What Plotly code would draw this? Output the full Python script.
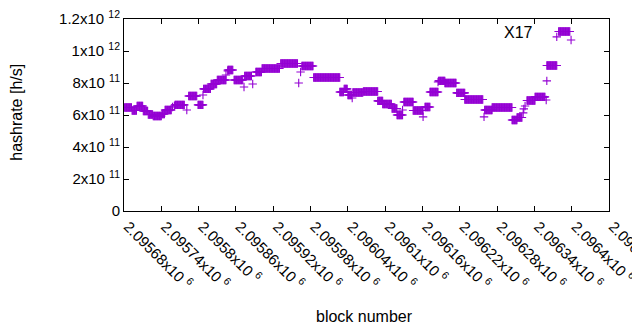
import plotly.graph_objects as go

# Runs of constant hashrate: (first block offset, last block offset, hashrate)
BASE_BLOCK = 2095680
run_start = [1, 13, 21, 31, 39, 47, 61, 66, 78, 81, 82, 101, 104, 119, 127, 128, 140, 150, 164, 167,
             167, 177, 193, 194, 207, 212, 222, 252, 281, 284, 286, 305, 347, 354, 360, 367, 368, 385,
             408, 416, 431, 439, 448, 450, 465, 481, 484, 492, 505, 506, 516, 535, 548, 579, 580, 592,
             624, 632, 642, 643, 645, 648, 661, 679, 680, 680, 696, 699, 719]
run_end = [12, 20, 30, 38, 46, 60, 65, 76, 78, 81, 97, 101, 117, 127, 127, 139, 149, 164, 164, 167,
           175, 191, 193, 205, 207, 221, 250, 279, 281, 284, 304, 347, 353, 359, 366, 367, 384, 408,
           416, 430, 439, 448, 448, 465, 481, 481, 492, 505, 505, 516, 534, 548, 577, 579, 592, 624,
           632, 640, 642, 643, 645, 661, 677, 679, 680, 696, 696, 717, 719]
run_value = [647e9, 628e9, 656e9, 625e9, 603e9, 594e9, 606e9, 631e9, 650e9, 656e9, 663e9, 631e9, 719e9,
             663e9, 725e9, 763e9, 794e9, 819e9, 850e9, 875e9, 881e9, 819e9, 775e9, 844e9, 794e9, 869e9,
             891e9, 922e9, 800e9, 869e9, 906e9, 834e9, 744e9, 763e9, 725e9, 706e9, 741e9, 747e9, 688e9,
             669e9, 641e9, 600e9, 631e9, 681e9, 628e9, 588e9, 650e9, 744e9, 806e9, 813e9, 800e9, 738e9,
             697e9, 588e9, 631e9, 647e9, 569e9, 584e9, 613e9, 638e9, 656e9, 691e9, 713e9, 694e9, 813e9,
             909e9, 1088e9, 1122e9, 1069e9]

x_tickvals = [2095680, 2095740, 2095800, 2095860, 2095920, 2095980, 2096040, 2096100, 2096160,
              2096220, 2096280, 2096340, 2096400, 2096460]
x_ticktext = ["2.09568x10 <sup>6</sup>", "2.09574x10 <sup>6</sup>", "2.0958x10 <sup>6</sup>",
              "2.09586x10 <sup>6</sup>", "2.09592x10 <sup>6</sup>", "2.09598x10 <sup>6</sup>",
              "2.09604x10 <sup>6</sup>", "2.0961x10 <sup>6</sup>", "2.09616x10 <sup>6</sup>",
              "2.09622x10 <sup>6</sup>", "2.09628x10 <sup>6</sup>", "2.09634x10 <sup>6</sup>",
              "2.0964x10 <sup>6</sup>", "2.09646x10 <sup>6</sup>"]
y_tickvals = [0, 2e11, 4e11, 6e11, 8e11, 1e12, 1.2e12]
y_ticktext = ["0", "2x10 <sup>11</sup>", "4x10 <sup>11</sup>", "6x10 <sup>11</sup>",
              "8x10 <sup>11</sup>", "1x10 <sup>12</sup>", "1.2x10 <sup>12</sup>"]

xs, ys = [], []
for s, e, v in zip(run_start, run_end, run_value):
    for b in range(s, e + 1):
        xs.append(BASE_BLOCK + b)
        ys.append(v)

COLOR = "#9400D3"
FONT = "Liberation Sans"

fig = go.Figure()
fig.add_trace(go.Scatter(
    x=xs, y=ys, mode="markers", name="X17",
    marker=dict(symbol="cross-thin", size=6, color=COLOR,
                line=dict(color=COLOR, width=1.1)),
    showlegend=False,
))

fig.add_annotation(text="X17", xref="paper", yref="paper", x=0.814, y=0.932,
                   xanchor="center", yanchor="middle", showarrow=False,
                   font=dict(family=FONT, size=16, color="black"))
fig.add_annotation(text="hashrate [h/s]", xref="paper", yref="paper", x=-0.221, y=0.516,
                   xanchor="center", yanchor="middle", showarrow=False, textangle=-90,
                   font=dict(family=FONT, size=16, color="black"))
fig.add_annotation(text="block number", xref="paper", yref="paper", x=0.495, y=-0.547,
                   xanchor="center", yanchor="middle", showarrow=False,
                   font=dict(family=FONT, size=16, color="black"))

# the page body adds an 8px offset, so the figure is sized to fit the 640x330 window
fig.update_layout(
    width=632, height=322,
    margin=dict(l=116, r=31, t=11, b=119),
    paper_bgcolor="white", plot_bgcolor="white",
    font=dict(family=FONT, size=15, color="black"),
    xaxis=dict(range=[2095680, 2096460], tickvals=x_tickvals, ticktext=x_ticktext,
               tickangle=45, ticks="inside", ticklen=5, tickcolor="black",
               showline=True, linecolor="black", linewidth=1, mirror="allticks",
               showgrid=False, zeroline=False, automargin=False,
               ticklabeloverflow="allow", ticklabelshift=4),
    yaxis=dict(range=[0, 1.2e12], tickvals=y_tickvals, ticktext=y_ticktext,
               ticks="inside", ticklen=5, tickcolor="black",
               showline=True, linecolor="black", linewidth=1, mirror="allticks",
               showgrid=False, zeroline=False, automargin=False,
               ticklabeloverflow="allow"),
)

fig.write_html("out.html")
